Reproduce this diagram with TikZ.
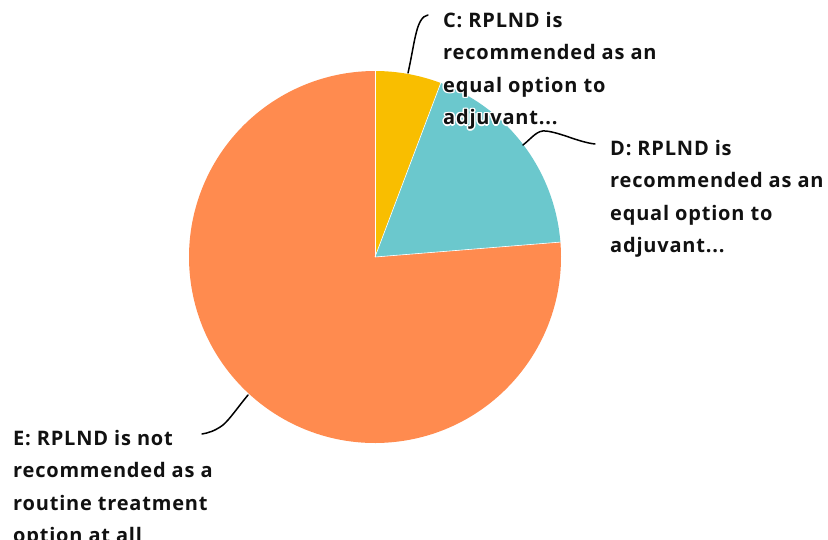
\documentclass[tikz,border=0pt]{standalone}
\usepackage{fontspec}
\setmainfont{Open Sans}[LetterSpace=4]
\definecolor{pieorange}{HTML}{FF8B4F}
\definecolor{pieyellow}{HTML}{F9BE00}
\definecolor{pieteal}{HTML}{6BC8CD}
\definecolor{lbltxt}{HTML}{111111}
\newcommand\lblbody[1]{\fontsize{20}{32.5}\selectfont\bfseries\begin{tabular}[t]{@{}l@{}}#1\end{tabular}}
\tikzset{
  lbl/.style={anchor=base west, inner sep=0pt, text=lbltxt},
  halo/.style={anchor=base west, inner sep=0pt, text=white},
  leader/.style={draw=black, line width=1.5pt, line cap=round},
  sep/.style={draw=white, line width=0.6pt}
}
\newcommand\halolabel[4]{%
  \foreach \dx/\dy [count=\k] in {-1.5/0,1.5/0,0/-1.5,0/1.5,-1.1/-1.1,1.1/-1.1,-1.1/1.1,1.1/1.1}
    {\node[halo] (#1h\k) at (#2+\dx,#3+\dy) {\lblbody{#4}};}
  \node[lbl] (#1) at (#2,#3) {\lblbody{#4}};
}
\newcommand\plainlabel[4]{\node[lbl] (#1) at (#2,#3) {\lblbody{#4}};}
\begin{document}
\begin{tikzpicture}[x=1pt,y=-1pt]
\useasboundingbox (0,0) rectangle (828,539);
\clip (0,0) rectangle (828,539);
\coordinate (ctr) at (375,257);
% slices
\fill[pieorange] (ctr) -- ++(-4.6:186) arc[start angle=-4.6, end angle=270, radius=186] -- cycle;
\fill[pieyellow] (ctr) -- ++(-90:186) arc[start angle=-90, end angle=-69.3, radius=186] -- cycle;
\fill[pieteal] (ctr) -- ++(-69.3:186) arc[start angle=-69.3, end angle=-4.6, radius=186] -- cycle;
\draw[sep] (ctr) -- ++(-90:186);
\draw[sep] (ctr) -- ++(-69.3:186);
\draw[sep] (ctr) -- ++(-4.6:186);
% leader ends
\coordinate (cA) at (408,73);
\coordinate (cB) at (428,15);
\coordinate (dA) at (523,145);
\coordinate (dM) at (546,131);
\coordinate (dB) at (595,144);
\coordinate (eA) at (248,395);
\coordinate (eM) at (223,425);
\coordinate (eB) at (202,434);
\draw[leader] (cA) .. controls (415,42) and (416,17) .. (cB);
\draw[leader] (dA) .. controls (533,137) and (537,130) .. (dM) .. controls (562,133) and (578,142) .. (dB);
\draw[leader] (eA) .. controls (238,407) and (230,419) .. (eM) .. controls (215,431) and (208,433) .. (eB);
% labels
\halolabel{labC}{443}{27}{C: RPLND is\\recommended as an\\equal option to\\adjuvant...}
\plainlabel{labD}{610}{155}{D: RPLND is\\recommended as an\\equal option to\\adjuvant...}
\plainlabel{labE}{13}{445}{E: RPLND is not\\recommended as a\\routine treatment\\option at all}
\end{tikzpicture}
\end{document}
